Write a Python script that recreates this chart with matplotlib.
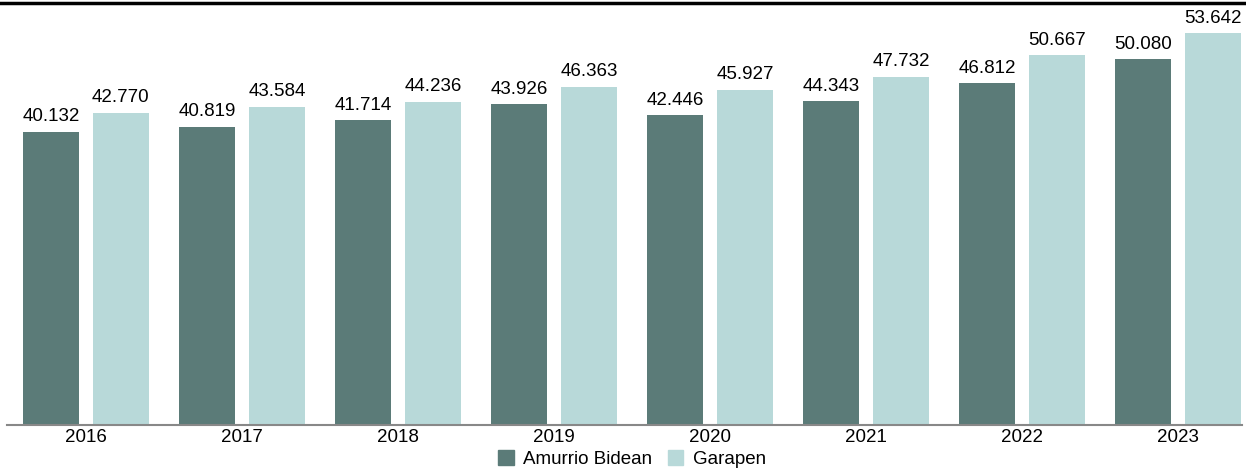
import matplotlib.pyplot as plt
import numpy as np
from matplotlib.patches import Patch
from matplotlib.lines import Line2D

plt.rcParams['font.family'] = ['Liberation Sans', 'DejaVu Sans']

years = ['2016', '2017', '2018', '2019', '2020', '2021', '2022', '2023']
amurrio = [40.132, 40.819, 41.714, 43.926, 42.446, 44.343, 46.812, 50.080]
garapen = [42.770, 43.584, 44.236, 46.363, 45.927, 47.732, 50.667, 53.642]
names = ['Amurrio Bidean', 'Garapen']
colors = ['#5b7b78', '#b8d9d9']

fig = plt.figure(figsize=(12.46, 4.68), dpi=100)
ax = fig.add_axes([7 / 1246, 1 - 425 / 468, 1235 / 1246, 422 / 468])

x = np.arange(len(years))
w = 0.36
off = 0.224
for vals, d, c in [(amurrio, -off, colors[0]), (garapen, off, colors[1])]:
    bars = ax.bar(x + d, vals, w, color=c)
    for b, v in zip(bars, vals):
        ax.text(b.get_x() + b.get_width() / 2, v + 0.9, f'{v:.3f}',
                ha='center', va='bottom', fontsize=13.5)

ax.set_xlim(-0.506, 7.41)
ax.set_ylim(0, 57.8)
ax.set_xticks(x)
ax.set_xticklabels(years, fontsize=13.5)
ax.tick_params(axis='x', length=0, pad=3)
ax.set_yticks([])
for s in ['top', 'left', 'right']:
    ax.spines[s].set_visible(False)
ax.spines['bottom'].set_color('#888888')
ax.spines['bottom'].set_linewidth(1.5)

# top rule across the whole figure
fig.add_artist(Line2D([0, 1], [1 - 3 / 468, 1 - 3 / 468], color='black', lw=2.5))

handles = [Patch(color=c) for c in colors]
fig.legend(handles, names, loc='center', bbox_to_anchor=(632 / 1246, 1 - 459 / 468),
           ncol=2, frameon=False, fontsize=13.5, handlelength=0.85, handleheight=0.85,
           handletextpad=0.5, columnspacing=0.8, borderaxespad=0, borderpad=0)

fig.savefig('out.png', dpi=100)
